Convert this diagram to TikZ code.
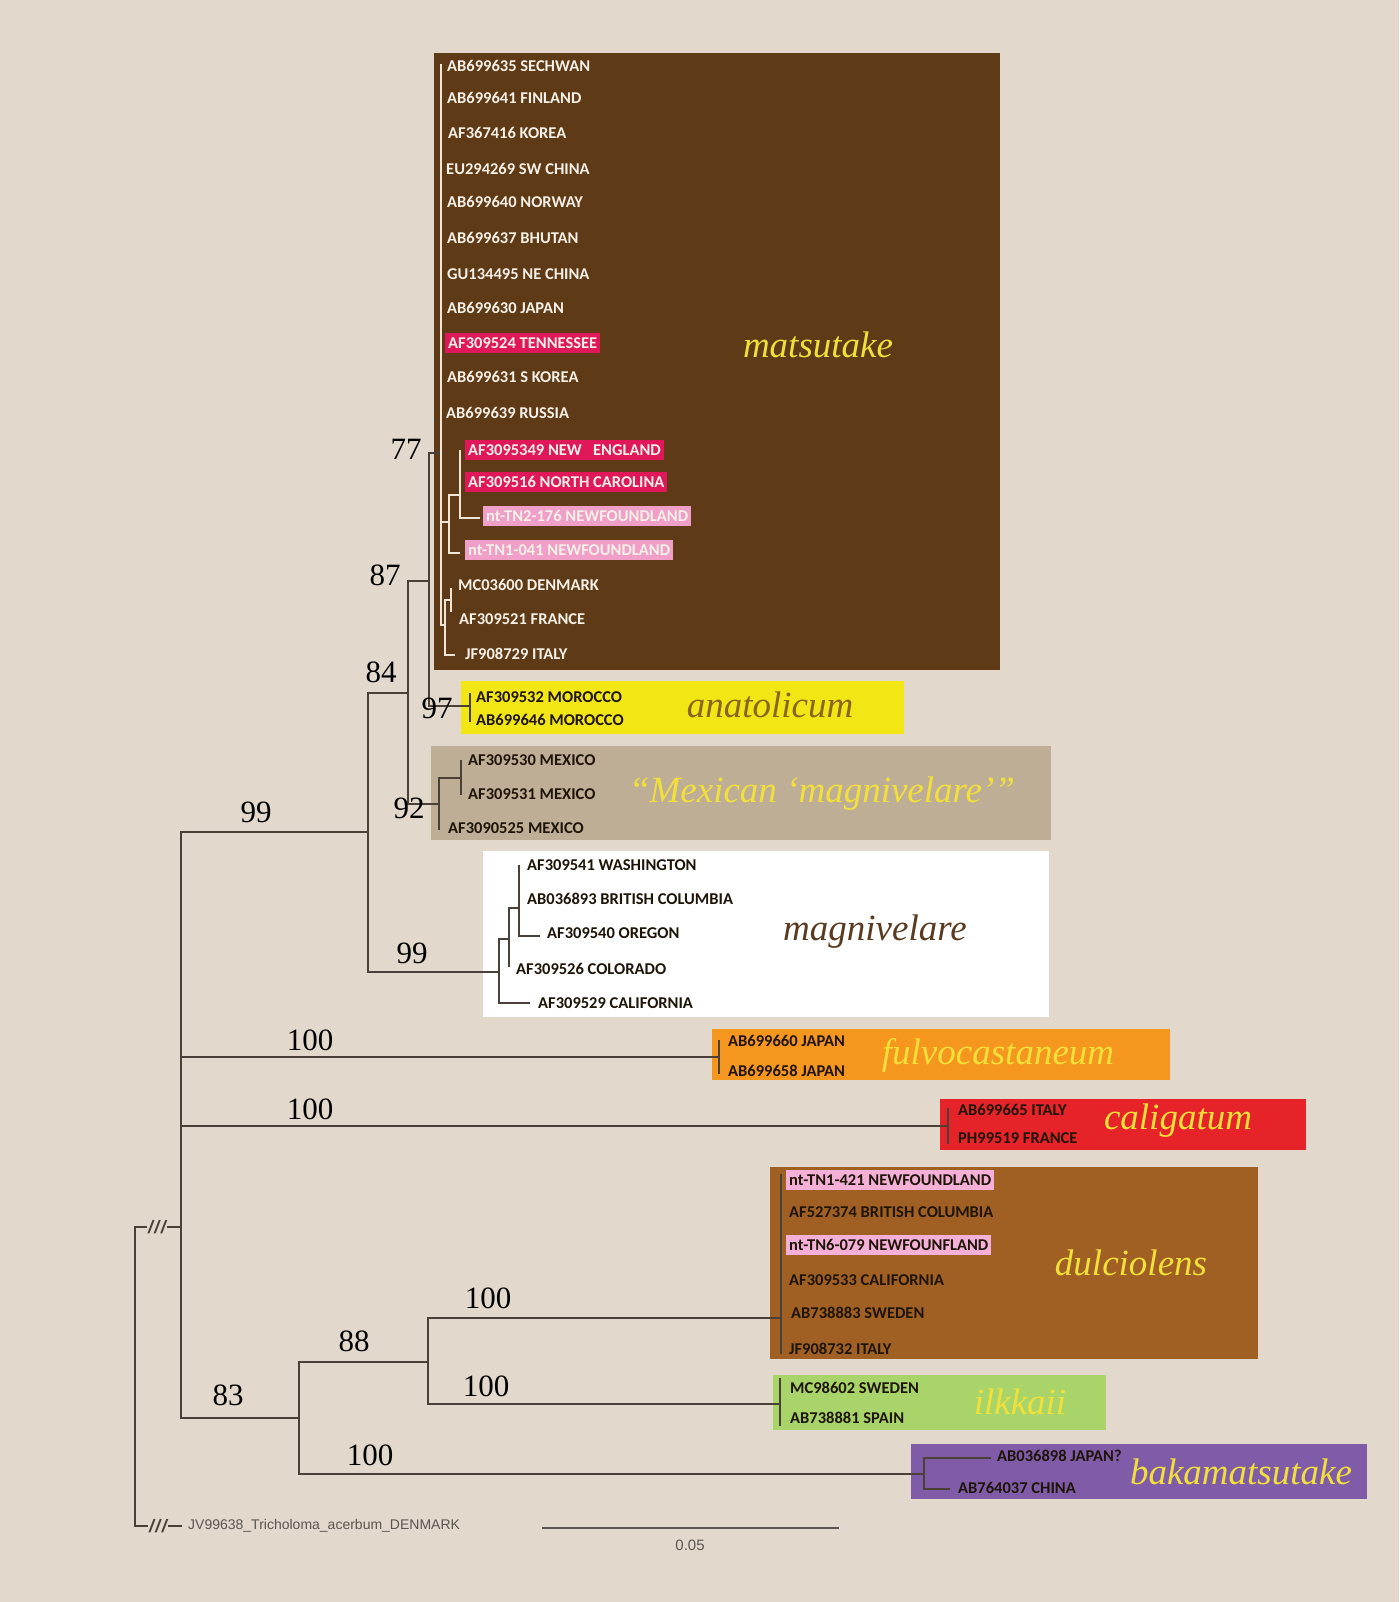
\documentclass[tikz,border=0pt]{standalone}
\usepackage{fontspec}
\setmainfont{Liberation Serif}
\newfontfamily\tipfamily{Carlito}
\newfontfamily\sansx{Liberation Sans}
\definecolor{bg}{HTML}{E2D8CC}
\definecolor{matbox}{HTML}{5E3A16}
\definecolor{anabox}{HTML}{F2E614}
\definecolor{mexbox}{HTML}{BFAE96}
\definecolor{fulbox}{HTML}{F5961E}
\definecolor{calbox}{HTML}{E62328}
\definecolor{dulbox}{HTML}{A06023}
\definecolor{ilkbox}{HTML}{A8D46A}
\definecolor{bakbox}{HTML}{805CA8}
\definecolor{hlred}{HTML}{E0185A}
\definecolor{hlpink}{HTML}{F0A0C8}
\definecolor{hlpinkb}{HTML}{F5B0D8}
\definecolor{treeline}{HTML}{4A4038}
\definecolor{lightline}{HTML}{EFE6D8}
\definecolor{cladeyellow}{HTML}{F2E03A}
\definecolor{tipwhite}{HTML}{F6F0E6}
\definecolor{tipdark}{HTML}{1E1408}
\definecolor{greytext}{HTML}{5A5550}
\definecolor{anatext}{HTML}{8A6420}
\definecolor{magtext}{HTML}{5A3A20}
\begin{document}
\begin{tikzpicture}[x=1pt,y=-1pt,
  leafbase/.style={anchor=west, inner xsep=3pt, inner ysep=5pt, text height=10.5pt, text depth=0pt,
    font=\tipfamily\bfseries\fontsize{16.5}{18}\selectfont},
  leafw/.style={leafbase, text=tipwhite},
  leafd/.style={leafbase, text=tipdark},
  redhl/.style={fill=hlred},
  pinkhl/.style={fill=hlpink},
  pinkhlb/.style={fill=hlpinkb},
  bootval/.style={font=\fontsize{31}{34}\selectfont, text=black, inner sep=0pt},
  cladename/.style={font=\itshape\fontsize{37}{40}\selectfont, text=cladeyellow, inner sep=0pt},
  treeedge/.style={draw=treeline, line width=1.8pt},
  lightedge/.style={draw=lightline, line width=1.6pt},
  slashes/.style={font=\sansx\bfseries\itshape\fontsize{18}{19}\selectfont, text=treeline, inner sep=1pt},
  greylabel/.style={font=\sansx\fontsize{14}{16}\selectfont, text=greytext, inner sep=0pt}
]
% background and bounding box
\fill[bg] (0,0) rectangle (1399,1602);
\useasboundingbox (0,0) rectangle (1399,1602);

% clade boxes
\fill[matbox] (434,53) rectangle (1000,670);
\fill[anabox] (461,681) rectangle (904,734);
\fill[mexbox] (431,746) rectangle (1051,840);
\fill[white] (483,851) rectangle (1049,1017);
\fill[fulbox] (712,1029) rectangle (1170,1080);
\fill[calbox] (940,1099) rectangle (1306,1150);
\fill[dulbox] (770,1167) rectangle (1258,1359);
\fill[ilkbox] (773,1375) rectangle (1106,1430);
\fill[bakbox] (911,1444) rectangle (1367,1499);

% ---------- internal node coordinates ----------
\coordinate (rootTop) at (135,1227);
\coordinate (rootBot) at (135,1526);
\coordinate (I) at (181,1227);
\coordinate (n99a) at (368,832);
\coordinate (n84) at (408,693);
\coordinate (n87) at (429,581);
\coordinate (m77) at (441,453);
\coordinate (A) at (449,522);
\coordinate (B) at (460,495);
\coordinate (D) at (445,625);
\coordinate (DF) at (451,600);
\coordinate (n97) at (470,706);
\coordinate (n92) at (439,804);
\coordinate (M2) at (461,778);
\coordinate (n99m) at (499,972);
\coordinate (W2) at (509,939);
\coordinate (W3) at (519,908);
\coordinate (n100f) at (719,1057);
\coordinate (n100c) at (948,1126);
\coordinate (n83) at (299,1418);
\coordinate (n88) at (428,1362);
\coordinate (n100d) at (781,1318);
\coordinate (n100i) at (780,1404);
\coordinate (n100b) at (924,1474);

% ---------- tip coordinates ----------
\coordinate (cSECH) at (441,64);
\coordinate (cFIN) at (441,98);
\coordinate (cKOR) at (441,133);
\coordinate (cSWC) at (441,169);
\coordinate (cNOR) at (441,202);
\coordinate (cBHU) at (441,238);
\coordinate (cNEC) at (441,274);
\coordinate (cJAP) at (441,308);
\coordinate (cTEN) at (441,343);
\coordinate (cSKO) at (441,377);
\coordinate (cRUS) at (441,413);
\coordinate (cNE) at (460,450);
\coordinate (cNC) at (460,482);
\coordinate (cTN2) at (480,518);
\coordinate (cTN1) at (460,553);
\coordinate (cDEN) at (451,588);
\coordinate (cFRA) at (451,612);
\coordinate (cITA) at (455,655);
\coordinate (cMOR1) at (470,693);
\coordinate (cMOR2) at (470,722);
\coordinate (cMEX1) at (461,760);
\coordinate (cMEX2) at (461,795);
\coordinate (cMEX3) at (439,830);
\coordinate (cWAS) at (519,865);
\coordinate (cBC) at (519,899);
\coordinate (cORE) at (540,936);
\coordinate (cCOL) at (509,967);
\coordinate (cCAL) at (530,1003);
\coordinate (cJP1) at (719,1040);
\coordinate (cJP2) at (719,1074);
\coordinate (cIT2) at (948,1108);
\coordinate (cFR2) at (948,1144);
\coordinate (cD1) at (781,1174);
\coordinate (cD2) at (781,1212);
\coordinate (cD3) at (781,1245);
\coordinate (cD4) at (781,1280);
\coordinate (cD5) at (781,1313);
\coordinate (cD6) at (781,1354);
\coordinate (cI1) at (780,1378);
\coordinate (cI2) at (780,1426);
\coordinate (cJPQ) at (991,1458);
\coordinate (cCHN) at (950,1489);
\coordinate (outEnd) at (182,1526);

% ---------- tip labels ----------
\node[leafw] (tSECH) at (444,66) {AB699635 SECHWAN};
\node[leafw] (tFIN) at (444,98) {AB699641 FINLAND};
\node[leafw] (tKOR) at (445,133) {AF367416 KOREA};
\node[leafw] (tSWC) at (443,169) {EU294269 SW CHINA};
\node[leafw] (tNOR) at (444,202) {AB699640 NORWAY};
\node[leafw] (tBHU) at (444,238) {AB699637 BHUTAN};
\node[leafw] (tNEC) at (444,274) {GU134495 NE CHINA};
\node[leafw] (tJAP) at (444,308) {AB699630 JAPAN};
\node[leafw,redhl] (tTEN) at (445,343) {AF309524 TENNESSEE};
\node[leafw] (tSKO) at (444,377) {AB699631 S KOREA};
\node[leafw] (tRUS) at (443,413) {AB699639 RUSSIA};
\node[leafw,redhl] (tNE) at (465,450) {AF3095349 NEW~~~ENGLAND};
\node[leafw,redhl] (tNC) at (465,482) {AF309516 NORTH CAROLINA};
\node[leafw,pinkhl] (tTN2) at (483,516) {nt-TN2-176 NEWFOUNDLAND};
\node[leafw,pinkhl] (tTN1) at (465,550) {nt-TN1-041 NEWFOUNDLAND};
\node[leafw] (tDEN) at (455,585) {MC03600 DENMARK};
\node[leafw] (tFRA) at (456,619) {AF309521 FRANCE};
\node[leafw] (tITA) at (462,654) {JF908729 ITALY};

\node[leafd] (tMOR1) at (473,697) {AF309532 MOROCCO};
\node[leafd] (tMOR2) at (473,720) {AB699646 MOROCCO};

\node[leafd] (tMEX1) at (465,760) {AF309530 MEXICO};
\node[leafd] (tMEX2) at (465,794) {AF309531 MEXICO};
\node[leafd] (tMEX3) at (445,828) {AF3090525 MEXICO};

\node[leafd] (tWAS) at (524,865) {AF309541 WASHINGTON};
\node[leafd] (tBC) at (524,899) {AB036893 BRITISH COLUMBIA};
\node[leafd] (tORE) at (544,933) {AF309540 OREGON};
\node[leafd] (tCOL) at (513,969) {AF309526 COLORADO};
\node[leafd] (tCAL) at (535,1003) {AF309529 CALIFORNIA};

\node[leafd] (tJP1) at (725,1041) {AB699660 JAPAN};
\node[leafd] (tJP2) at (725,1071) {AB699658 JAPAN};

\node[leafd] (tIT2) at (955,1110) {AB699665 ITALY};
\node[leafd] (tFR2) at (955,1138) {PH99519 FRANCE};

\node[leafd,pinkhlb] (tD1) at (786,1180) {nt-TN1-421 NEWFOUNDLAND};
\node[leafd] (tD2) at (786,1212) {AF527374 BRITISH COLUMBIA};
\node[leafd,pinkhlb] (tD3) at (786,1245) {nt-TN6-079 NEWFOUNFLAND};
\node[leafd] (tD4) at (786,1280) {AF309533 CALIFORNIA};
\node[leafd] (tD5) at (788,1313) {AB738883 SWEDEN};
\node[leafd] (tD6) at (786,1349) {JF908732 ITALY};

\node[leafd] (tI1) at (787,1388) {MC98602 SWEDEN};
\node[leafd] (tI2) at (787,1418) {AB738881 SPAIN};

\node[leafd] (tJPQ) at (994,1456) {AB036898 JAPAN?};
\node[leafd] (tCHN) at (955,1488) {AB764037 CHINA};

% ---------- clade names ----------
\node[cladename] (nmat) at (818,345) {matsutake};
\node[cladename,text=anatext] (nana) at (770,705) {anatolicum};
\node[cladename] (nmex) at (822,794) {“Mexican ‘magnivelare’”};
\node[cladename,text=magtext] (nmag) at (875,932) {magnivelare};
\node[cladename] (nful) at (998,1055) {fulvocastaneum};
\node[cladename] (ncal) at (1178,1121) {caligatum};
\node[cladename] (ndul) at (1131,1263) {dulciolens};
\node[cladename] (nilk) at (1020,1402) {ilkkaii};
\node[cladename] (nbak) at (1241,1472) {bakamatsutake};

% ---------- dark tree edges ----------
\draw[treeedge] (I) |- (n99a);
\draw[treeedge] (I) |- (n100f);
\draw[treeedge] (I) |- (n100c);
\draw[treeedge] (I) |- (n83);
\draw[treeedge] (n99a) |- (n84);
\draw[treeedge] (n99a) |- (n99m);
\draw[treeedge] (n84) |- (n87);
\draw[treeedge] (n84) |- (n92);
\draw[treeedge] (n87) |- (m77);
\draw[treeedge] (n87) |- (n97);
\draw[treeedge] (n97) |- (cMOR1);
\draw[treeedge] (n97) |- (cMOR2);
\draw[treeedge] (n92) |- (M2);
\draw[treeedge] (n92) |- (cMEX3);
\draw[treeedge] (M2) |- (cMEX1);
\draw[treeedge] (M2) |- (cMEX2);
\draw[treeedge] (n99m) |- (W2);
\draw[treeedge] (n99m) |- (cCAL);
\draw[treeedge] (W2) |- (W3);
\draw[treeedge] (W2) |- (cCOL);
\draw[treeedge] (W3) |- (cWAS);
\draw[treeedge] (W3) |- (cBC);
\draw[treeedge] (W3) |- (cORE);
\draw[treeedge] (n100f) |- (cJP1);
\draw[treeedge] (n100f) |- (cJP2);
\draw[treeedge] (n100c) |- (cIT2);
\draw[treeedge] (n100c) |- (cFR2);
\draw[treeedge] (n83) |- (n88);
\draw[treeedge] (n83) |- (n100b);
\draw[treeedge] (n88) |- (n100d);
\draw[treeedge] (n88) |- (n100i);
\foreach \t in {cD1,cD2,cD3,cD4,cD5,cD6} \draw[treeedge] (n100d) |- (\t);
\draw[treeedge] (n100i) |- (cI1);
\draw[treeedge] (n100i) |- (cI2);
\draw[treeedge] (n100b) |- (cJPQ);
\draw[treeedge] (n100b) |- (cCHN);

% ---------- light edges inside matsutake ----------
\foreach \t in {cSECH,cFIN,cKOR,cSWC,cNOR,cBHU,cNEC,cJAP,cTEN,cSKO,cRUS} \draw[lightedge] (m77) |- (\t);
\draw[lightedge] (m77) |- (A);
\draw[lightedge] (m77) |- (D);
\draw[lightedge] (A) |- (B);
\draw[lightedge] (A) |- (cTN1);
\draw[lightedge] (B) |- (cNE);
\draw[lightedge] (B) |- (cNC);
\draw[lightedge] (B) |- (cTN2);
\draw[lightedge] (D) |- (DF);
\draw[lightedge] (D) |- (cITA);
\draw[lightedge] (DF) |- (cDEN);
\draw[lightedge] (DF) |- (cFRA);

% ---------- root with broken branches ----------
\node[slashes] (slTop) at (157,1227) {/\kern1.5pt/\kern1.5pt/};
\node[slashes] (slBot) at (158,1526) {/\kern1.5pt/\kern1.5pt/};
\node[greylabel,anchor=west] (tOUT) at (188,1526) {JV99638\_Tricholoma\_acerbum\_DENMARK};
\draw[treeedge] (slTop.west) -- (rootTop) -- (rootBot) -- (slBot.west);
\draw[treeedge] (slTop.east) -- (I);
\draw[treeedge] (slBot.east) -- (outEnd);

% ---------- bootstrap values ----------
\node[bootval] (b77) at (406,449) {77};
\node[bootval] (b87) at (385,575) {87};
\node[bootval] (b84) at (381,672) {84};
\node[bootval] (b97) at (437,708) {97};
\node[bootval] (b92) at (409,808) {92};
\node[bootval] (b99a) at (256,812) {99};
\node[bootval] (b99m) at (412,953) {99};
\node[bootval] (b100f) at (310,1040) {100};
\node[bootval] (b100c) at (310,1109) {100};
\node[bootval] (b83) at (228,1395) {83};
\node[bootval] (b88) at (354,1341) {88};
\node[bootval] (b100d) at (488,1298) {100};
\node[bootval] (b100i) at (486,1386) {100};
\node[bootval] (b100b) at (370,1455) {100};

% ---------- scale bar ----------
\coordinate (sbL) at (542,1528);
\coordinate (sbR) at (839,1528);
\draw[draw=greytext, line width=2.2pt] (sbL) -- (sbR);
\node[greylabel, font=\sansx\fontsize{15}{16}\selectfont] (sbT) at (690,1545) {0.05};
\end{tikzpicture}
\end{document}
